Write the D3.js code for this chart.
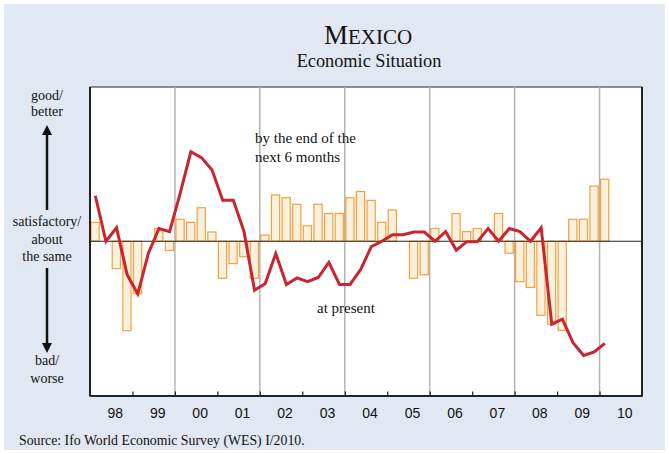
<!DOCTYPE html>
<html>
<head>
<meta charset="utf-8">
<script src="https://cdn.jsdelivr.net/npm/d3@7/dist/d3.min.js"></script>
<style>
  body { margin: 0; background: #fff; }
  svg text { font-family: "Liberation Serif", "Times New Roman", serif; fill: #111; }
</style>
</head>
<body>
<script>
let width = 669, height = 454;

// quarterly survey, Q1 1998 .. Q1 2010, index 1 (bad) .. 9 (good), 5 = satisfactory
let startYear = 1998;
let present = [6.18, 5.0, 5.35, 4.13, 3.63, 4.69, 5.33, 5.25,
    6.25, 7.32, 7.17, 6.85, 6.06, 6.06, 5.26, 3.73,
    3.90, 4.68, 3.88, 4.05, 3.95, 4.06, 4.45, 3.88,
    3.88, 4.27, 4.86, 5.0, 5.17, 5.17, 5.24, 5.24,
    5.0, 5.25, 4.77, 4.99, 4.99, 5.33, 5.0, 5.33,
    5.25, 5.0, 5.35, 2.85, 2.98, 2.37, 2.04, 2.13,
    2.35];
let expected = [5.49, null, 4.29, 2.68, 3.64, null, 5.33, 4.76,
    5.57, 5.49, 5.87, 5.24, 4.04, 4.42, 4.60, 4.04,
    5.16, 6.20, 6.13, 5.96, 5.40, 5.96, 5.72, 5.72,
    6.13, 6.29, 6.06, 5.49, 5.81, null, 4.04, 4.13,
    5.33, null, 5.72, 5.25, 5.33, null, 5.72, 4.69,
    3.95, 3.80, 3.08, 2.85, 2.69, 5.57, 5.57, 6.43,
    6.61];
let yearLabels = ["98", "99", "00", "01", "02", "03", "04", "05", "06", "07", "08", "09", "10"];
let gridYears = [2000, 2002, 2004, 2006, 2008, 2010];

let plot = {left: 90, right: 642, top: 87, bottom: 395.5};

let svg = d3.select("body").append("svg")
    .attr("width", width)
    .attr("height", height);

svg.append("rect")
    .attr("x", 4).attr("y", 4)
    .attr("width", 661).attr("height", 446)
    .attr("fill", "#e1e8f3");

let x = d3.scaleLinear()
    .domain([1998, 2011])
    .range([plot.left, plot.right]);

let y = d3.scaleLinear()
    .domain([1, 9])
    .range([plot.bottom, plot.top]);

let t = i => startYear + i / 4;

svg.append("rect")
    .attr("x", plot.left).attr("y", plot.top)
    .attr("width", plot.right - plot.left).attr("height", plot.bottom - plot.top)
    .attr("fill", "#fff")
    .attr("stroke", "#222")
    .attr("stroke-width", 1);

// vertical grid
svg.selectAll("line.grid").data(gridYears).enter().append("line")
    .attr("class", "grid")
    .attr("x1", d => x(d)).attr("x2", d => x(d))
    .attr("y1", plot.top).attr("y2", plot.bottom)
    .attr("stroke", "#b4b4b4")
    .attr("stroke-width", 1.5);

// bars: expectations
let bars = expected.map((v, i) => ({i: i, v: v})).filter(d => d.v !== null);
svg.selectAll("rect.bar").data(bars).enter().append("rect")
    .attr("class", "bar")
    .attr("x", d => x(t(d.i)) + 1)
    .attr("width", d => x(t(d.i + 1)) - x(t(d.i)) - 2.4)
    .attr("y", d => Math.min(y(d.v), y(5)))
    .attr("height", d => Math.abs(y(d.v) - y(5)))
    .attr("fill", "#f8f1dd")
    .attr("stroke", "#f5962a")
    .attr("stroke-opacity", 0.9)
    .attr("stroke-width", 1.2);

// zero line
svg.append("line")
    .attr("x1", plot.left).attr("x2", plot.right)
    .attr("y1", y(5)).attr("y2", y(5))
    .attr("stroke", "#222")
    .attr("stroke-width", 1.2);

// line: present situation
let line = d3.line()
    .x((d, i) => x(t(i) + 0.125))
    .y(d => y(d));

svg.append("path")
    .datum(present)
    .attr("d", line)
    .attr("fill", "none")
    .attr("stroke", "#c9252f")
    .attr("stroke-width", 3)
    .attr("stroke-linejoin", "miter");

// axes frame
svg.append("line")
    .attr("x1", plot.left).attr("x2", plot.left)
    .attr("y1", plot.top).attr("y2", plot.bottom + 1)
    .attr("stroke", "#222").attr("stroke-width", 2);
svg.append("line")
    .attr("x1", plot.right).attr("x2", plot.right)
    .attr("y1", plot.top).attr("y2", plot.bottom + 1)
    .attr("stroke", "#222").attr("stroke-width", 2);

let xAxis = d3.axisBottom(x)
    .tickValues(d3.range(1999, 2011))
    .tickSizeInner(-4)
    .tickSizeOuter(0)
    .tickFormat("");

svg.append("g")
    .attr("transform", `translate(0,${plot.bottom})`)
    .call(xAxis)
    .call(g => g.select(".domain").attr("stroke", "#222").attr("stroke-width", 2))
    .call(g => g.selectAll(".tick line").attr("stroke", "#222").attr("stroke-width", 1.2));

svg.selectAll("text.year").data(yearLabels).enter().append("text")
    .attr("class", "year")
    .attr("x", (d, i) => x(startYear + i + 0.5) + 4)
    .attr("y", 418)
    .attr("text-anchor", "middle")
    .style("font-family", "'Liberation Sans', Arial, sans-serif")
    .style("font-size", "14px")
    .text(d => d);

// titles
let title = svg.append("text")
    .attr("x", 368).attr("y", 44)
    .attr("text-anchor", "middle")
    .style("font-size", "27px");
title.append("tspan").text("M");
title.append("tspan").style("font-size", "21px").text("EXICO");

svg.append("text")
    .attr("x", 369).attr("y", 67)
    .attr("text-anchor", "middle")
    .style("font-size", "18.3px")
    .text("Economic Situation");

// annotations
svg.append("text").attr("x", 255).attr("y", 143)
    .style("font-size", "15px").text("by the end of the");
svg.append("text").attr("x", 255).attr("y", 162)
    .style("font-size", "15px").text("next 6 months");
svg.append("text").attr("x", 317).attr("y", 313)
    .style("font-size", "15px").text("at present");

// y side labels
let sideLabels = [
    {text: "good/", y: 100}, {text: "better", y: 116},
    {text: "satisfactory/", y: 226}, {text: "about", y: 244}, {text: "the same", y: 261},
    {text: "bad/", y: 365}, {text: "worse", y: 383}
];
svg.selectAll("text.side").data(sideLabels).enter().append("text")
    .attr("class", "side")
    .attr("x", 47).attr("y", d => d.y)
    .attr("text-anchor", "middle")
    .style("font-size", "14px")
    .text(d => d.text);

svg.append("defs").append("marker")
    .attr("id", "arrowhead")
    .attr("viewBox", "0 0 10 10")
    .attr("refX", 5).attr("refY", 5)
    .attr("markerWidth", 4).attr("markerHeight", 4)
    .attr("orient", "auto")
    .append("path")
    .attr("d", "M0,0 L10,5 L0,10 z")
    .attr("fill", "#111");

svg.append("line")
    .attr("x1", 47).attr("x2", 47).attr("y1", 210).attr("y2", 130)
    .attr("stroke", "#111").attr("stroke-width", 2.5)
    .attr("marker-end", "url(#arrowhead)");
svg.append("line")
    .attr("x1", 47).attr("x2", 47).attr("y1", 268).attr("y2", 348)
    .attr("stroke", "#111").attr("stroke-width", 2.5)
    .attr("marker-end", "url(#arrowhead)");

svg.append("text")
    .attr("x", 19).attr("y", 445)
    .style("font-size", "13.8px")
    .text("Source: Ifo World Economic Survey (WES) I/2010.");
</script>
</body>
</html>
